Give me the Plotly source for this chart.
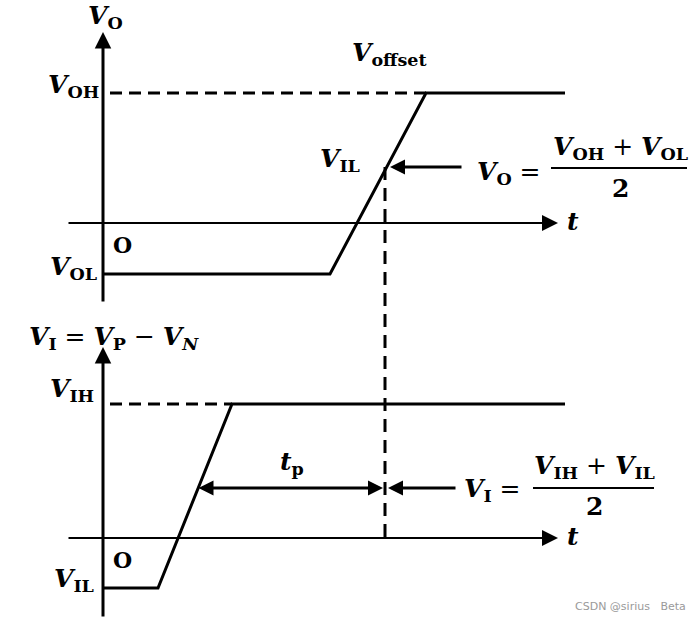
import plotly.graph_objects as go

# ---------------- data ----------------
# time measured from the vertical axis, voltages relative to each panel's t-axis
t_vo = [0, 227, 323, 462]          # output waveform breakpoints
v_vo = [-51, -51, 130, 130]        # V_OL -> V_OH
t_vi = [0, 55, 129, 462]           # input waveform breakpoints
v_vi = [-50, -50, 134, 134]        # V_IL -> V_IH
t_dash_start = 7                   # dashed reference levels start
t_axis = [-36, 455]                # horizontal t-axis extent
v_axis = [-80, 191]                # vertical axis extent
t_mark = 282                       # switching instant (vertical dashed line)
v_mark_out = 56                    # output level marked by the arrow
v_mark_in = 50                     # input level of t_p arrow
t_tp_start = 94                    # t_p arrow start on input ramp
t_tp_end = 280
t_out_arrow = [360, 287]           # arrow from V_O formula
t_in_arrow = [354, 285]            # arrow from V_I formula
GAP = 315                          # vertical distance between the two t-axes

W, H = 690, 619
X0, Y0 = 103, 223                  # pixel of origin in top panel

FONT = "DejaVu Serif, Liberation Serif, serif"
BLACK = "black"

fig = go.Figure()

# top waveform
fig.add_trace(go.Scatter(x=t_vo, y=v_vo, mode="lines",
                         line=dict(color=BLACK, width=3), yaxis="y"))
fig.add_trace(go.Scatter(x=[t_dash_start, t_vo[2]], y=[v_vo[2], v_vo[2]], mode="lines",
                         line=dict(color=BLACK, width=3, dash="12px,7px"), yaxis="y"))
# bottom waveform
fig.add_trace(go.Scatter(x=t_vi, y=v_vi, mode="lines",
                         line=dict(color=BLACK, width=3), yaxis="y2"))
fig.add_trace(go.Scatter(x=[t_dash_start, t_vi[2]], y=[v_vi[2], v_vi[2]], mode="lines",
                         line=dict(color=BLACK, width=3, dash="12px,7px"), yaxis="y2"))
# vertical dashed connector (expressed in bottom-panel coordinates)
fig.add_trace(go.Scatter(x=[t_mark, t_mark], y=[v_mark_out + GAP, 0], mode="lines",
                         line=dict(color=BLACK, width=3, dash="13px,8px"), yaxis="y2"))

anns = []


def arrow(x, y, ax, ay, yref, width, size=1.0, head=2, side="end"):
    anns.append(dict(x=x, y=y, ax=ax, ay=ay, xref="x", yref=yref, axref="x", ayref=yref,
                     text="", showarrow=True, arrowhead=head, startarrowhead=head,
                     arrowwidth=width, arrowsize=size, startarrowsize=size,
                     arrowcolor=BLACK, arrowside=side, standoff=0, startstandoff=0))


# axes
arrow(t_axis[1], 0, t_axis[0], 0, "y", 2, 1.6)
arrow(0, v_axis[1], 0, v_axis[0], "y", 3, 1.1)
arrow(t_axis[1], 0, t_axis[0], 0, "y2", 2, 1.6)
arrow(0, v_axis[1], 0, v_axis[0], "y2", 3, 1.1)
# indicator arrows
arrow(t_out_arrow[1], v_mark_out, t_out_arrow[0], v_mark_out, "y", 3, 1.0)
arrow(t_in_arrow[1], v_mark_in, t_in_arrow[0], v_mark_in, "y2", 3, 1.0)
arrow(t_tp_end, v_mark_in, t_tp_start, v_mark_in, "y2", 3, 1.0, side="end+start")


def txt(text, x, y, size=25, xanchor="center", color=BLACK, family=FONT):
    anns.append(dict(text=text, x=x / W, y=1 - y / H, xref="paper", yref="paper",
                     showarrow=False, xanchor=xanchor, yanchor="middle",
                     font=dict(family=family, size=size, color=color)))


def V(sub, italic_sub=False):
    s = f"<i>{sub}</i>" if italic_sub else sub
    return f"<b><i>V</i><sub>{s}</sub></b>"


# labels
txt(V("O"), 105, 17)
txt(V("offset"), 390, 54)
txt(V("OH"), 73, 86)
txt(V("IL"), 340, 160)
txt("<b>O</b>", 122, 245, 22)
txt(V("OL"), 73, 268)
txt("<b><i>t</i></b>", 573, 222)

txt(V("I") + " = " + V("P") + " − " + "<b><i>V</i><sub><i>N</i></sub></b>", 27, 338, xanchor="left")
txt(V("IH"), 72, 390)
txt("<b><i>t</i><sub>p</sub></b>", 292, 463)
txt("<b>O</b>", 122, 560, 22)
txt(V("IL"), 74, 580)
txt("<b><i>t</i></b>", 573, 536)

# formula top
txt(V("O") + " =", 509, 173)
txt(V("OH") + " + " + V("OL"), 620, 148)
txt("<b>2</b>", 620, 188)
# formula bottom
txt(V("I") + " =", 492, 490)
txt(V("IH") + " + " + V("IL"), 594, 467)
txt("<b>2</b>", 594, 506)

# watermark
txt("CSDN @sirius   Beta", 630, 606, 11, color="#9a9a9a", family="DejaVu Sans, sans-serif")

shapes = [
    dict(type="line", xref="paper", yref="paper", x0=551 / W, x1=687 / W,
         y0=1 - 168 / H, y1=1 - 168 / H, line=dict(color=BLACK, width=2)),
    dict(type="line", xref="paper", yref="paper", x0=533 / W, x1=654 / W,
         y0=1 - 488 / H, y1=1 - 488 / H, line=dict(color=BLACK, width=2)),
]

fig.update_layout(
    width=W, height=H, autosize=False,
    margin=dict(l=0, r=0, t=0, b=0),
    paper_bgcolor="white", plot_bgcolor="white",
    showlegend=False,
    xaxis=dict(range=[-X0, W - X0], visible=False, fixedrange=True),
    yaxis=dict(range=[Y0 - H, Y0], visible=False, fixedrange=True),
    yaxis2=dict(range=[Y0 + GAP - H, Y0 + GAP], visible=False, overlaying="y",
                fixedrange=True),
    annotations=anns, shapes=shapes,
)

fig.write_html("out.html", config={"displayModeBar": False},
               post_script="document.body.style.margin='0';")
